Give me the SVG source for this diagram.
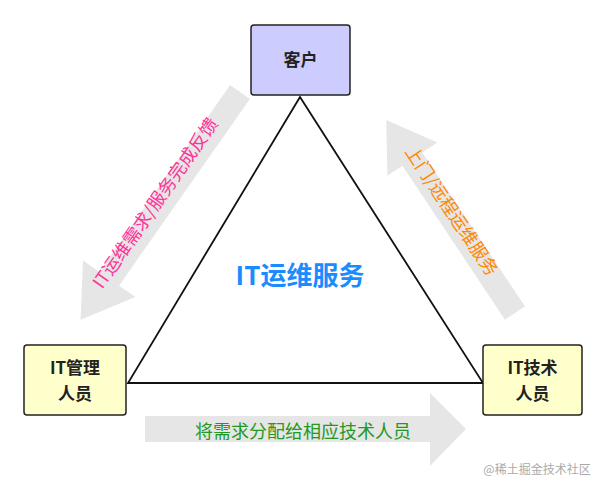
<svg xmlns="http://www.w3.org/2000/svg" width="608" height="490" viewBox="0 0 608 490">
<style>
text{font-family:"Noto Sans CJK SC","Liberation Sans",sans-serif}
.box{stroke:#222;stroke-width:1.5}
.lbl{font-size:17px;font-weight:bold;fill:#222;text-anchor:middle}
.arr{fill:#e6e6e6}
.al{font-size:18px;text-anchor:middle;dominant-baseline:central}
</style>
<rect width="608" height="490" fill="#fff"/>
<g id="connectors">
<polygon points="300,97 483,383 128,383" fill="none" stroke="#111" stroke-width="1.8"/>
<polygon class="arr" transform="translate(240,92) rotate(125)" points="0,-12 228,-12 228,-32 278,0 228,32 228,12 0,12"/>
<polygon class="arr" transform="translate(515,313) rotate(-123.7)" points="0,-12 185,-12 185,-30 232,0 185,30 185,12 0,12"/>
<polygon class="arr" points="145,416 430,416 430,393 466,429 430,466 430,442 145,442"/>
<text class="al" fill="#ff3399" transform="translate(154,202) rotate(-55)">IT运维需求/服务完成反馈</text>
<text class="al" fill="#ff8800" transform="translate(453,210) rotate(56.3)">上门/远程运维服务</text>
<text class="al" fill="#229922" x="303" y="430">将需求分配给相应技术人员</text>
</g>
<g id="kehu"><rect class="box" x="251" y="25" width="99" height="70" rx="3" fill="#ccccff"/><text class="lbl" x="300.5" y="66">客户</text></g>
<g id="itgl"><rect class="box" x="24" y="345" width="102" height="70" rx="3" fill="#ffffcc"/><text class="lbl" x="75" y="374">IT管理</text><text class="lbl" x="75" y="400">人员</text></g>
<g id="itjs"><rect class="box" x="483" y="345" width="99" height="70" rx="3" fill="#ffffcc"/><text class="lbl" x="532.5" y="374">IT技术</text><text class="lbl" x="532.5" y="400">人员</text></g>
<g id="center"><text x="300" y="285" font-size="26" font-weight="bold" fill="#1a8cff" text-anchor="middle">IT运维服务</text></g>
<text x="537" y="474" font-size="12" fill="#aaa" text-anchor="middle">@稀土掘金技术社区</text>
</svg>
